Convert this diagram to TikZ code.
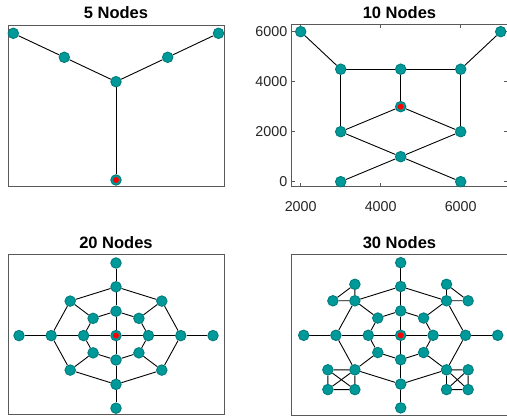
\documentclass[tikz,border=0pt]{standalone}
\usepackage{fontspec}
\setmainfont{Liberation Sans}
\usetikzlibrary{backgrounds,calc}

\definecolor{nodeteal}{RGB}{0,153,153}
\definecolor{nodeedge}{RGB}{0,124,124}
\definecolor{axisgray}{RGB}{38,38,38}

\tikzset{
  vtx/.style={circle, fill=nodeteal, draw=nodeedge, line width=0.9pt,
              minimum size=10.5pt, inner sep=0pt},
  hubdot/.style={circle, fill=red, minimum size=6pt, inner sep=0pt},
  link/.style={draw=black, line width=0.9pt},
  frame/.style={draw=black!65, line width=1pt},
  tickmark/.style={draw=black!65, line width=0.8pt},
  ptitle/.style={font=\bfseries\fontsize{16.5}{18}\selectfont, text=black, inner sep=0pt},
  ticklbl/.style={font=\fontsize{14.3}{16}\selectfont, text=axisgray, inner sep=0pt},
}

% Spider-web graph around the origin of the current scope:
% centre, two octagonal rings and four outer spokes.
\newcommand\webgraph[1]{%
  \node[vtx] (#1c) at (0,0) {};
  \foreach \r in {1,2}{
    \foreach \a in {0,45,...,315}{
      \pgfmathsetmacro\wx{32.4*\r*cos(\a)}
      \pgfmathsetmacro\wy{24.4*\r*sin(\a)}
      \node[vtx] (#1r\r-\a) at (\wx,\wy) {};
    }
  }
  \foreach \a in {0,90,180,270}{
    \pgfmathsetmacro\wx{97*cos(\a)}
    \pgfmathsetmacro\wy{72.6*sin(\a)}
    \node[vtx] (#1o-\a) at (\wx,\wy) {};
  }
  \begin{scope}[on background layer]
    \foreach \r in {1,2}{
      \foreach \a in {0,45,...,315}{
        \pgfmathtruncatemacro\b{mod(\a+45,360)}
        \draw[link] (#1r\r-\a) -- (#1r\r-\b);
      }
    }
    \foreach \a in {0,45,...,315}{
      \draw[link] (#1r1-\a) -- (#1r2-\a);
    }
    \foreach \a in {0,90,180,270}{
      \draw[link] (#1c) -- (#1r1-\a);
      \draw[link] (#1r2-\a) -- (#1o-\a);
    }
  \end{scope}
  \node[hubdot] (#1hub) at (#1c) {};
}

\begin{document}
\begin{tikzpicture}[x=1pt,y=-1pt]
\useasboundingbox (0,0) rectangle (507,419);
\begin{scope}[on background layer]
  \fill[white] (0,0) rectangle (507,419);
\end{scope}

% ---------- 5 nodes ----------
\draw[frame] (8,26) rectangle (224,187);
\node[ptitle, anchor=base] (t5) at (116,18.3) {5 Nodes};
\node[vtx] (a1) at (13.3,33.3) {};
\node[vtx] (a2) at (64.3,57.3) {};
\node[vtx] (a3) at (116,81.7) {};
\node[vtx] (a4) at (167.7,57.3) {};
\node[vtx] (a5) at (218.5,33.3) {};
\node[vtx] (a6) at (116,180) {};
\node[hubdot] (ahub) at (a6) {};
\begin{scope}[on background layer]
  \draw[link] (a1) -- (a2) -- (a3) -- (a4) -- (a5);
  \draw[link] (a3) -- (a6);
\end{scope}

% ---------- 10 nodes (with axes) ----------
\draw[frame] (291,25) rectangle (508,187);
\node[ptitle, anchor=base] (t10) at (399.5,18.3) {10 Nodes};
\foreach \xv/\xp in {2000/300.7,4000/380.7,6000/460.7}{
  \draw[tickmark] (\xp,187) -- (\xp,183.5);
  \draw[tickmark] (\xp,25) -- (\xp,28.5);
  \node[ticklbl, anchor=base] (xl\xv) at (\xp,211.5) {\xv};
}
\foreach \yv/\yp in {0/181.7,2000/131.7,4000/81.7,6000/31.7}{
  \draw[tickmark] (291,\yp) -- (294.5,\yp);
  \draw[tickmark] (507,\yp) -- (503.5,\yp);
  \node[ticklbl, anchor=east] (yl\yv) at (287.5,\yp) {\yv};
}
\node[vtx] (b1) at (300.7,31.7) {};
\node[vtx] (b2) at (500.7,31.7) {};
\node[vtx] (b3) at (340.7,69.2) {};
\node[vtx] (b4) at (400.7,69.2) {};
\node[vtx] (b5) at (460.7,69.2) {};
\node[vtx] (b6) at (400.7,106.7) {};
\node[vtx] (b7) at (340.7,131.7) {};
\node[vtx] (b8) at (460.7,131.7) {};
\node[vtx] (b9) at (400.7,156.7) {};
\node[vtx] (b10) at (340.7,181.7) {};
\node[vtx] (b11) at (460.7,181.7) {};
\node[hubdot] (bhub) at (b6) {};
\begin{scope}[on background layer]
  \draw[link] (b1) -- (b3);
  \draw[link] (b2) -- (b5);
  \draw[link] (b3) -- (b4) -- (b5);
  \draw[link] (b3) -- (b7);
  \draw[link] (b5) -- (b8);
  \draw[link] (b4) -- (b6);
  \draw[link] (b6) -- (b7);
  \draw[link] (b6) -- (b8);
  \draw[link] (b7) -- (b9) -- (b11);
  \draw[link] (b8) -- (b9) -- (b10);
\end{scope}

% ---------- 20 nodes ----------
\draw[frame] (8,255) rectangle (224,415);
\node[ptitle, anchor=base] (t20) at (116,248.3) {20 Nodes};
\begin{scope}[shift={(116,335.6)}]
  \webgraph{w}
\end{scope}

% ---------- 30 nodes ----------
\draw[frame] (291,255) rectangle (508,416);
\node[ptitle, anchor=base] (t30) at (399.5,248.3) {30 Nodes};
\begin{scope}[shift={(400.7,335.3)}]
  \webgraph{v}
\end{scope}
% triangles on the upper diagonal nodes
\node[vtx] (tl1) at ($(vr2-225)+(0,-16.5)$) {};
\node[vtx] (tl2) at ($(vr2-225)+(-22,0)$) {};
\node[vtx] (tr1) at ($(vr2-315)+(0,-16.5)$) {};
\node[vtx] (tr2) at ($(vr2-315)+(21.6,0)$) {};
% complete quadruples on the lower diagonal nodes
\node[vtx] (bl1) at ($(vr2-135)+(-27,0)$) {};
\node[vtx] (bl2) at ($(vr2-135)+(-27,19.8)$) {};
\node[vtx] (bl3) at ($(vr2-135)+(0,19.8)$) {};
\node[vtx] (br1) at ($(vr2-45)+(21.6,0)$) {};
\node[vtx] (br2) at ($(vr2-45)+(21.6,19.8)$) {};
\node[vtx] (br3) at ($(vr2-45)+(0,19.8)$) {};
\begin{scope}[on background layer]
  \draw[link] (vr2-225) -- (tl1) -- (tl2) -- (vr2-225);
  \draw[link] (vr2-315) -- (tr1) -- (tr2) -- (vr2-315);
  \draw[link] (vr2-135) -- (bl1) -- (bl2) -- (bl3) -- (vr2-135) -- (bl2);
  \draw[link] (bl1) -- (bl3);
  \draw[link] (vr2-45) -- (br1) -- (br2) -- (br3) -- (vr2-45) -- (br2);
  \draw[link] (br1) -- (br3);
\end{scope}
\end{tikzpicture}
\end{document}
